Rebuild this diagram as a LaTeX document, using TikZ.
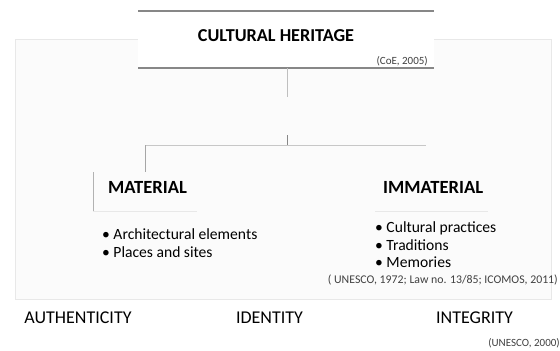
\documentclass[tikz,border=0pt]{standalone}
\usepackage{fontspec}
\setmainfont{Carlito}
\usetikzlibrary{positioning}
\definecolor{rulec}{RGB}{135,135,135}
\definecolor{faintc}{RGB}{232,232,232}

\begin{document}
\begin{tikzpicture}[x=1pt,y=-1pt,
    headtxt/.style={font=\fontsize{18.2}{20}\selectfont\bfseries},
    kindtxt/.style={font=\fontsize{18.6}{20}\selectfont\bfseries},
    listtxt/.style={font=\fontsize{15.6}{17.5}\selectfont,align=left,anchor=north west,inner sep=0pt},
    valtxt/.style={font=\fontsize{18}{20}\selectfont},
    citetxt/.style={font=\fontsize{11}{12}\selectfont,text=black!75,inner sep=0pt}]
  \useasboundingbox (0,0) rectangle (560,351);
  % faint frame behind everything
  \filldraw[fill=black!1.5,draw=faintc] (15,39) rectangle (551,299);
  % title box
  \fill[white] (138,11) rectangle (434,68);
  \draw[rulec,line width=1.2pt] (138,11) -- (434,11);
  \draw[rulec,line width=1.2pt] (138,68) -- (434,68);
  \node[headtxt] (heritage) at (276,36) {CULTURAL HERITAGE};
  \node[citetxt,anchor=east] (coe) at (428,61) {(CoE, 2005)};
  % tree connectors
  \coordinate (stemtop) at (287,68);
  \coordinate (stembot) at (287,97);
  \coordinate (tick) at (287,135);
  \coordinate (barmid) at (287,145);
  \coordinate (barleft) at (145,145);
  \coordinate (barright) at (426,145);
  \coordinate (drop) at (145,172);
  \draw[rulec,line width=0.8pt] (stemtop) -- ++(0,9);
  \draw[black!25] (stemtop) -- (stembot);
  \draw[rulec] (tick) -- (barmid);
  \draw[black!22,line width=0.8pt] (barleft) -- (barright);
  \draw[black!35,line width=1pt] (barleft) -- (drop);
  % the two kinds
  \node[kindtxt,anchor=west] (material) at (104.5,187) {MATERIAL};
  \node[kindtxt,anchor=west] (immaterial) at (379.5,187) {IMMATERIAL};
  \draw[black!30] (93,172) -- (93,211);
  \draw[faintc] (93,211) -- (197,211);
  \draw[faintc] (375,211) -- (488,211);
  \node[listtxt] (matlist) at (102,228.5) {\textbullet\ Architectural elements\\\textbullet\ Places and sites};
  \node[listtxt] (immlist) at (375,221.5) {\textbullet\ Cultural practices\\\textbullet\ Traditions\\\textbullet\ Memories};
  \node[citetxt,anchor=east,font=\fontsize{11.8}{13}\selectfont] (unesco72) at (558,280) {( UNESCO, 1972; Law no. 13/85; ICOMOS, 2011)};
  % values
  \node[valtxt] (authenticity) at (78,318) {AUTHENTICITY};
  \node[valtxt] (identity) at (269.5,318) {IDENTITY};
  \node[valtxt] (integrity) at (474.5,318) {INTEGRITY};
  \node[citetxt,anchor=east] (unesco00) at (560,343) {(UNESCO, 2000)};
\end{tikzpicture}
\end{document}
